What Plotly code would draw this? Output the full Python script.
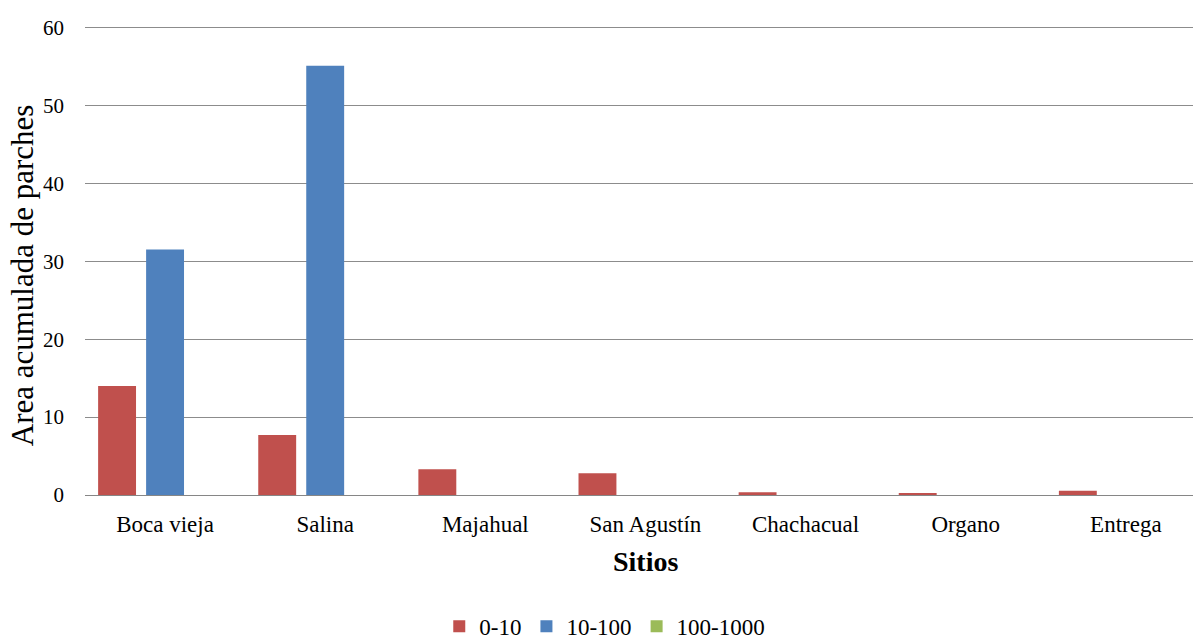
import plotly.graph_objects as go

sitios = ["Boca vieja", "Salina", "Majahual", "San Agustín", "Chachacual", "Organo", "Entrega"]
rango_0_10 = [14.0, 7.7, 3.3, 2.8, 0.35, 0.25, 0.55]
rango_10_100 = [31.5, 55.1, 0, 0, 0, 0, 0]
rango_100_1000 = [0, 0, 0, 0, 0, 0, 0]
y_ticks = [0, 10, 20, 30, 40, 50, 60]

serif = "Liberation Serif, Times New Roman, serif"
W, H = 1193, 641
L, R, T, B = 84.5, 0, 26, 145.5
pw = W - L - R
ph = H - T - B

fig = go.Figure()
for name, vals, col in [("0-10", rango_0_10, "#C0504D"),
                        ("10-100", rango_10_100, "#4F81BD"),
                        ("100-1000", rango_100_1000, "#9BBB59")]:
    fig.add_trace(go.Bar(x=sitios, y=vals, name=name, marker=dict(color=col, line=dict(width=0))))

cat_w = 160.2
x_end = -0.5 + pw / cat_w

fig.update_layout(
    width=W, height=H,
    margin=dict(l=L, r=R, t=T, b=B, autoexpand=False),
    paper_bgcolor="white", plot_bgcolor="white",
    barmode="group", bargap=0.101, bargroupgap=0.21,
    font=dict(family=serif, color="#000000", size=21),
    showlegend=True,
    legend=dict(orientation="h", x=(604.5 - L) / pw, xanchor="center",
                y=(T + ph - 627) / ph, yanchor="middle",
                font=dict(family=serif, size=23), itemwidth=30,
                traceorder="normal"),
    xaxis=dict(range=[-0.5, x_end], showline=True, linecolor="#868686", linewidth=1,
               showgrid=False, ticks="", tickfont=dict(family=serif, size=23),
               ticklabelstandoff=8, fixedrange=True),
    yaxis=dict(range=[0, 60.2], tickvals=y_ticks, showgrid=True, gridcolor="#8c8c8c",
               gridwidth=1, zeroline=False, showline=False, ticks="",
               tickfont=dict(family=serif, size=21), ticklabelstandoff=20,
               fixedrange=True),
    annotations=[
        dict(text="Area acumulada de parches", textangle=-90, xref="paper", yref="paper",
             x=(22 - L) / pw, y=(T + ph - 276) / ph, xanchor="center", yanchor="middle",
             showarrow=False, font=dict(family=serif, size=31)),
        dict(text="<b>Sitios</b>", xref="x", yref="paper", x=3,
             y=(T + ph - 562) / ph, xanchor="center", yanchor="middle",
             showarrow=False, font=dict(family=serif, size=28)),
    ],
)

fig.write_html("out.html", config={"displayModeBar": False},
               post_script="document.body.style.margin='0';document.body.style.overflow='hidden';")
